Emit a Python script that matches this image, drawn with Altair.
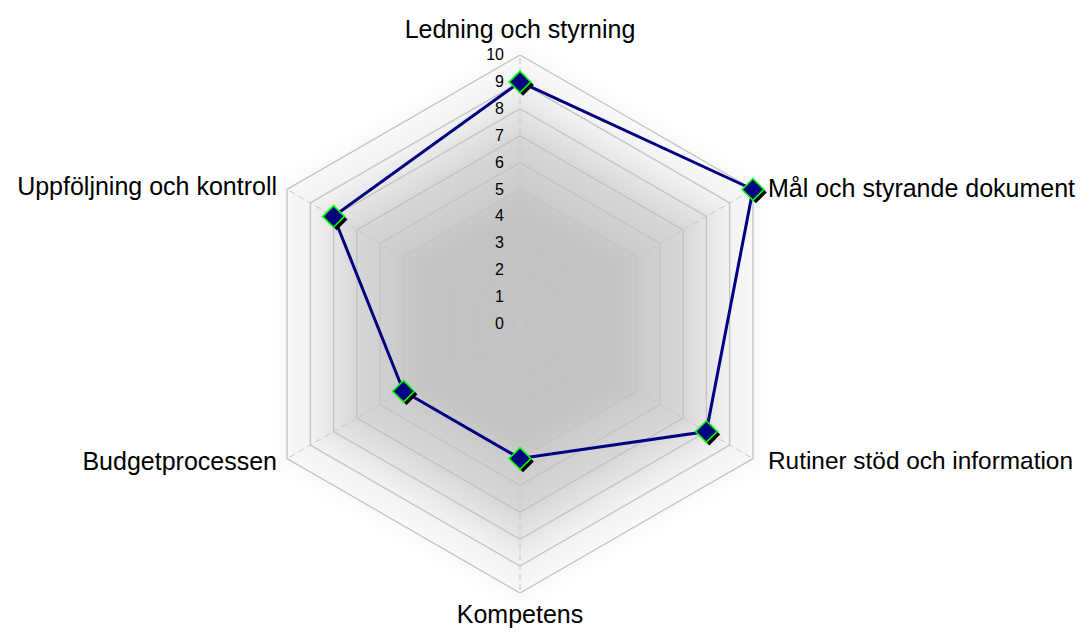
import math
import numpy as np
import pandas as pd
import altair as alt

# ---------------- data ----------------
categories = [
    "Ledning och styrning",
    "Mål och styrande dokument",
    "Rutiner stöd och information",
    "Kompetens",
    "Budgetprocessen",
    "Uppföljning och kontroll",
]
values = [9, 10, 8, 5, 5, 8]
tick_labels = ["0", "1", "2", "3", "4", "5", "6", "7", "8", "9", "10"]
ring_levels = [1, 2, 3, 4, 5, 6, 7, 8, 9, 10]
max_value = 10

# ---------------- geometry ----------------
W, H = 1076, 620          # plot area (autosize none, padding 0) -> page offset 8px
PX = 26.9                 # pixels per unit
CX, CY = 512, 316         # centre in plot pixels
x_dom = [-CX / PX, (W - CX) / PX]
y_dom = [-(H - CY) / PX, CY / PX]
xs = alt.Scale(domain=x_dom, nice=False, zero=False)
ys = alt.Scale(domain=y_dom, nice=False, zero=False)

n = len(categories)
angles = [math.radians(90 - 360 / n * i) for i in range(n)]


def X(f="x"):
    return alt.X(f"{f}:Q", scale=xs, axis=None)


def Y(f="y"):
    return alt.Y(f"{f}:Q", scale=ys, axis=None)


# ---------------- background (hexagonal soft gradient) ----------------
step = 0.15
radii = np.arange(10.8, 0.0, -step)
d_r = [0, 2, 4, 5, 6, 7, 8, 9, 10, 10.8]
d_v = [0.225, 0.22, 0.205, 0.19, 0.168, 0.14, 0.1, 0.058, 0.022, 0.0]
rows = []
T_prev = 1.0
c30 = math.cos(math.radians(30))
for k, r in enumerate(radii):
    d_in = float(np.interp(r - step / 2, d_r, d_v))
    T = 1 - d_in
    a = 1 - T / T_prev
    T_prev = T
    for j, (px_, py_, py2_) in enumerate([(-r * c30, r / 2, -r / 2), (0, r, -r), (r * c30, r / 2, -r / 2)]):
        rows.append({"lvl": k, "op": a, "x": px_, "y": py_, "y2": py2_})
bg_df = pd.DataFrame(rows)
background = alt.Chart(bg_df).mark_area(color="black", strokeWidth=0).encode(
    x=X(), y=Y(), y2="y2:Q",
    opacity=alt.Opacity("op:Q", scale=None, legend=None),
    detail="lvl:N",
)

# ---------------- grid rings ----------------
ring_rows = []
for L in ring_levels:
    for j in range(n + 1):
        a = angles[j % n]
        ring_rows.append({"level": L, "ord": j, "x": L * math.cos(a), "y": L * math.sin(a)})
rings = alt.Chart(pd.DataFrame(ring_rows)).mark_line(stroke="#c3c3c3", strokeWidth=1.3).encode(
    x=X(), y=Y(), detail="level:N", order="ord:Q"
)

# ---------------- spokes ----------------
spoke_df = pd.DataFrame({
    "x": [0.0] * n, "y": [0.0] * n,
    "x2": [max_value * math.cos(a) for a in angles],
    "y2": [max_value * math.sin(a) for a in angles],
})
spokes = alt.Chart(spoke_df).mark_rule(stroke="#c8c8c8", strokeWidth=1, strokeDash=[6, 4]).encode(
    x=X(), y=Y(), x2="x2:Q", y2="y2:Q"
)

# ---------------- tick labels ----------------
tick_df = pd.DataFrame({"t": tick_labels, "y": list(range(len(tick_labels)))})
tick_df["x"] = -16 / PX
ticks = alt.Chart(tick_df).mark_text(
    align="right", baseline="middle", font="Liberation Sans", fontSize=16, color="black"
).encode(x=X(), y=Y(), text="t:N")

# ---------------- series ----------------
ser = pd.DataFrame({
    "cat": categories + [categories[0]],
    "ord": list(range(n + 1)),
    "v": values + [values[0]],
})
ser["x"] = [v * math.cos(angles[i % n]) for i, v in enumerate(ser["v"])]
ser["y"] = [v * math.sin(angles[i % n]) for i, v in enumerate(ser["v"])]
pts = ser.iloc[:n]

line = alt.Chart(ser).mark_line(stroke="#000080", strokeWidth=3).encode(x=X(), y=Y(), order="ord:Q")
shadow = alt.Chart(pts).mark_point(
    shape="diamond", size=470, filled=True, fill="black", opacity=1, strokeWidth=0, xOffset=3, yOffset=3
).encode(x=X(), y=Y())
markers = alt.Chart(pts).mark_point(
    shape="diamond", size=470, filled=True, fill="#000080", stroke="#00ff00", strokeWidth=1.6, opacity=1
).encode(x=X(), y=Y())

# ---------------- category labels ----------------
# pixel offsets from the outer vertex (dx, dy), alignment, font size
label_pos = [(0, -25.5, "center", 25), (15, -1, "left", 25), (15, 3.5, "left", 24.4),
             (0, 21.5, "center", 25), (-10, 3.5, "right", 25), (-10, -3, "right", 25)]
lab_rows = []
for i, c in enumerate(categories):
    vx = max_value * math.cos(angles[i])
    vy = max_value * math.sin(angles[i])
    dx, dy, al, fs = label_pos[i]
    lab_rows.append({"cat": c, "x": vx + dx / PX, "y": vy - dy / PX, "al": al, "fs": fs})
lab_df = pd.DataFrame(lab_rows)
label_layers = []
for al in ["left", "center", "right"]:
    sub = lab_df[lab_df["al"] == al]
    label_layers.append(
        alt.Chart(sub).mark_text(
            align=al, baseline="middle", font="Liberation Sans", color="black"
        ).encode(x=X(), y=Y(), text="cat:N", size=alt.Size("fs:Q", scale=None, legend=None))
    )

chart = alt.layer(
    background, rings, spokes, ticks, line, shadow, markers, *label_layers
).properties(
    width=W, height=H, padding=0, background="white",
    autosize=alt.AutoSizeParams(type="none"),
).configure_view(stroke=None, strokeWidth=0)

chart.save("out.html", embed_options={"renderer": "svg", "actions": False})
